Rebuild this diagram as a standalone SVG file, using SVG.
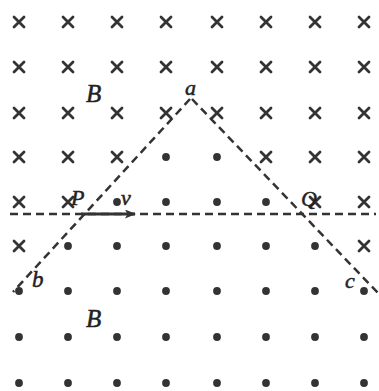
<svg xmlns="http://www.w3.org/2000/svg" xmlns:xlink="http://www.w3.org/1999/xlink" width="379" height="391" viewBox="0 0 379 391">
<style>
.cx{stroke:#333;stroke-width:2.8;fill:none;stroke-linecap:round}
.dt{fill:#333}
.dash{stroke:#333;stroke-width:2.5;fill:none;stroke-dasharray:8 5}
.lbl{font-family:"Liberation Serif","Times New Roman",serif;font-style:italic;fill:#222;stroke:#222;stroke-width:0.5}
</style>
<defs>
<path id="x" class="cx" d="M-5,-5 L5,5 M5,-5 L-5,5"/>
<circle id="o" class="dt" r="3.9"/>
<marker id="ah" markerWidth="11" markerHeight="9" refX="10" refY="4.5" orient="auto" markerUnits="userSpaceOnUse">
<path d="M0,0 L11,4.5 L0,9 L2.5,4.5 Z" fill="#333"/>
</marker>
</defs>
<rect width="379" height="391" fill="#fff"/>
<g id="field">
<g id="row0"><use href="#x" x="19" y="22"/><use href="#x" x="68" y="22"/><use href="#x" x="117" y="22"/><use href="#x" x="166" y="22"/><use href="#x" x="217" y="22"/><use href="#x" x="266" y="22"/><use href="#x" x="315" y="22"/><use href="#x" x="364" y="22"/></g>
<g id="row1"><use href="#x" x="19" y="67"/><use href="#x" x="68" y="67"/><use href="#x" x="117" y="67"/><use href="#x" x="166" y="67"/><use href="#x" x="217" y="67"/><use href="#x" x="266" y="67"/><use href="#x" x="315" y="67"/><use href="#x" x="364" y="67"/></g>
<g id="row2"><use href="#x" x="19" y="113"/><use href="#x" x="68" y="113"/><use href="#x" x="117" y="113"/><use href="#x" x="166" y="113"/><use href="#x" x="217" y="113"/><use href="#x" x="266" y="113"/><use href="#x" x="315" y="113"/><use href="#x" x="364" y="113"/></g>
<g id="row3"><use href="#x" x="19" y="157"/><use href="#x" x="68" y="157"/><use href="#x" x="117" y="157"/><use href="#o" x="166" y="157"/><use href="#o" x="217" y="157"/><use href="#x" x="266" y="157"/><use href="#x" x="315" y="157"/><use href="#x" x="364" y="157"/></g>
<g id="row4"><use href="#x" x="19" y="202"/><use href="#x" x="68" y="202"/><use href="#o" x="117" y="202"/><use href="#o" x="166" y="202"/><use href="#o" x="217" y="202"/><use href="#o" x="266" y="202"/><use href="#x" x="315" y="202"/><use href="#x" x="364" y="202"/></g>
<g id="row5"><use href="#x" x="19" y="246"/><use href="#o" x="68" y="246"/><use href="#o" x="117" y="246"/><use href="#o" x="166" y="246"/><use href="#o" x="217" y="246"/><use href="#o" x="266" y="246"/><use href="#o" x="315" y="246"/><use href="#x" x="364" y="246"/></g>
<g id="row6"><use href="#o" x="19" y="291"/><use href="#o" x="68" y="291"/><use href="#o" x="117" y="291"/><use href="#o" x="166" y="291"/><use href="#o" x="217" y="291"/><use href="#o" x="266" y="291"/><use href="#o" x="315" y="291"/><use href="#o" x="364" y="291"/></g>
<g id="row7"><use href="#o" x="19" y="337"/><use href="#o" x="68" y="337"/><use href="#o" x="117" y="337"/><use href="#o" x="166" y="337"/><use href="#o" x="217" y="337"/><use href="#o" x="266" y="337"/><use href="#o" x="315" y="337"/><use href="#o" x="364" y="337"/></g>
<g id="row8"><use href="#o" x="19" y="383"/><use href="#o" x="68" y="383"/><use href="#o" x="117" y="383"/><use href="#o" x="166" y="383"/><use href="#o" x="217" y="383"/><use href="#o" x="266" y="383"/><use href="#o" x="315" y="383"/><use href="#o" x="364" y="383"/></g>
</g>
<g id="lines">
<path class="dash" d="M10,214 H376"/>
<path class="dash" d="M190,99 L13,292"/>
<path class="dash" d="M192,99 L378,293"/>
<path d="M81,214 H135" stroke="#333" stroke-width="2.8" marker-end="url(#ah)"/>
</g>
<g id="labels">
<text class="lbl" x="185" y="95" font-size="22">a</text>
<text class="lbl" x="86" y="102" font-size="25">B</text>
<text class="lbl" x="86" y="327" font-size="25">B</text>
<text class="lbl" x="71" y="205" font-size="22">P</text>
<text class="lbl" x="121" y="205" font-size="22">v</text>
<text class="lbl" x="301" y="206" font-size="22">Q</text>
<text class="lbl" x="32" y="287" font-size="23">b</text>
<text class="lbl" x="345" y="288" font-size="22">c</text>
</g>
</svg>
